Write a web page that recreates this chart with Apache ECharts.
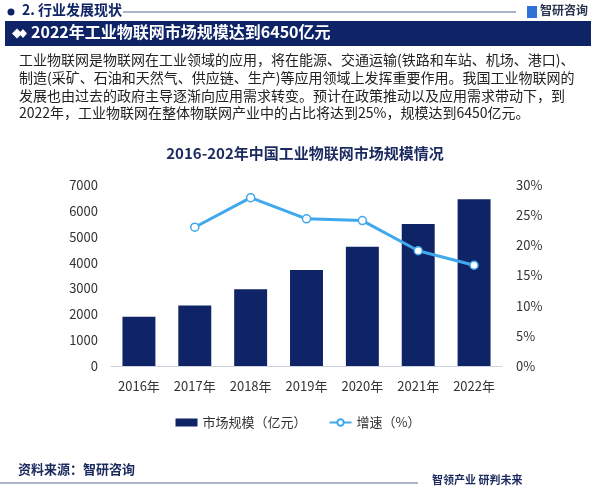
<!DOCTYPE html>
<html><head><meta charset="utf-8">
<script src="https://cdn.jsdelivr.net/npm/echarts@6/dist/echarts.min.js"></script>
<style>html,body{margin:0;padding:0;background:#fff}#c{width:596px;height:491px}</style>
</head><body><div id="c"></div>
<script>
var categories = ['2016年','2017年','2018年','2019年','2020年','2021年','2022年'];
var marketSize = [1900, 2340, 2970, 3710, 4610, 5490, 6450];
var growth = [null, 23.0, 27.9, 24.4, 24.1, 19.1, 16.7];
var leftTicks = [0, 7000, 1000];
var rightTicks = [0, 30, 5];
var paragraph = [
  '工业物联网是物联网在工业领域的应用，将在能源、交通运输(铁路和车站、机场、港口)、',
  '制造(采矿、石油和天然气、供应链、生产)等应用领域上发挥重要作用。我国工业物联网的',
  '发展也由过去的政府主导逐渐向应用需求转变。预计在政策推动以及应用需求带动下，到',
  '2022年，工业物联网在整体物联网产业中的占比将达到25%，规模达到6450亿元。'
];
var FONT = '"Noto Sans CJK SC","Noto Sans",sans-serif';
var NAVY = '#0e2466';
var chart = echarts.init(document.getElementById('c'));
var graphics = [
  {type:'circle', shape:{cx:11, cy:12, r:3.5}, style:{fill:NAVY}},
  {type:'text', x:22, y:3, style:{text:'2. 行业发展现状', font:'bold 14px '+FONT, fill:NAVY}},
  {type:'line', shape:{x1:123, y1:12, x2:516, y2:12}, style:{stroke:'#5a6690', lineWidth:1}},
  {type:'rect', shape:{x:527, y:6, width:10, height:12}, style:{fill:'#2f6fd6'}},
  {type:'text', x:540, y:4, style:{text:'智研咨询', font:'bold 12px '+FONT, fill:'#2a3550'}},
  {type:'rect', shape:{x:5, y:21, width:586, height:25}, style:{fill:NAVY}},
  {type:'polygon', shape:{points:[[12,33.5],[17,28.5],[22,33.5],[17,38.5]]}, style:{fill:'#fff'}},
  {type:'polygon', shape:{points:[[19,33.5],[23,29],[27,33.5],[23,38]]}, style:{fill:'#fff'}},
  {type:'text', x:31, y:24, style:{text:'2022年工业物联网市场规模达到6450亿元', font:'bold 16px '+FONT, fill:'#fff'}},
  {type:'text', x:305, y:146, style:{text:'2016-202年中国工业物联网市场规模情况', font:'bold 15px '+FONT, fill:'#1b2a5e', align:'center'}},
  {type:'text', x:18, y:463, style:{text:'资料来源：智研咨询', font:'bold 13px '+FONT, fill:'#1b2a5e'}},
  {type:'line', shape:{x1:0, y1:483, x2:418, y2:483}, style:{stroke:'#5a6690', lineWidth:1}},
  {type:'text', x:432, y:474, style:{text:'智领产业 研判未来', font:'bold 11px '+FONT, fill:'#1b2a5e'}}
];
paragraph.forEach(function(line, i){
  graphics.push({type:'text', x:19, y:53 + i*17.6, style:{text:line, font:'14px '+FONT, fill:'#222'}});
});
chart.setOption({
  animation:false,
  graphic: graphics,
  grid:{left:111, right:94, top:185, bottom:125},
  legend:{
    top:411, left:'center', itemGap:22, itemWidth:22, itemHeight:8,
    textStyle:{fontFamily:FONT, fontSize:13, color:'#333'},
    data:[{name:'市场规模（亿元）', icon:'rect'}, {name:'增速（%）'}]
  },
  xAxis:{
    type:'category', data:categories,
    axisLine:{lineStyle:{color:'#ccd3e0'}}, axisTick:{show:false},
    axisLabel:{fontFamily:FONT, fontSize:13, color:'#333', margin:14}
  },
  yAxis:[
    {type:'value', min:leftTicks[0], max:leftTicks[1], interval:leftTicks[2],
     splitLine:{show:false}, axisLine:{show:false}, axisTick:{show:false},
     axisLabel:{fontFamily:FONT, fontSize:13, color:'#333', margin:13, formatter:function(v){return String(v);}}},
    {type:'value', min:rightTicks[0], max:rightTicks[1], interval:rightTicks[2],
     splitLine:{show:false}, axisLine:{show:false}, axisTick:{show:false},
     axisLabel:{fontFamily:FONT, fontSize:13, color:'#333', margin:14, formatter:'{value}%'}}
  ],
  series:[
    {name:'市场规模（亿元）', type:'bar', data:marketSize, barWidth:'59%',
     itemStyle:{color:NAVY}},
    {name:'增速（%）', type:'line', yAxisIndex:1, data:growth,
     symbol:'circle', symbolSize:8, showAllSymbol:true,
     lineStyle:{color:'#40a8ec', width:3},
     itemStyle:{color:'#fff', borderColor:'#40a8ec', borderWidth:1.5}}
  ]
});
</script></body></html>
